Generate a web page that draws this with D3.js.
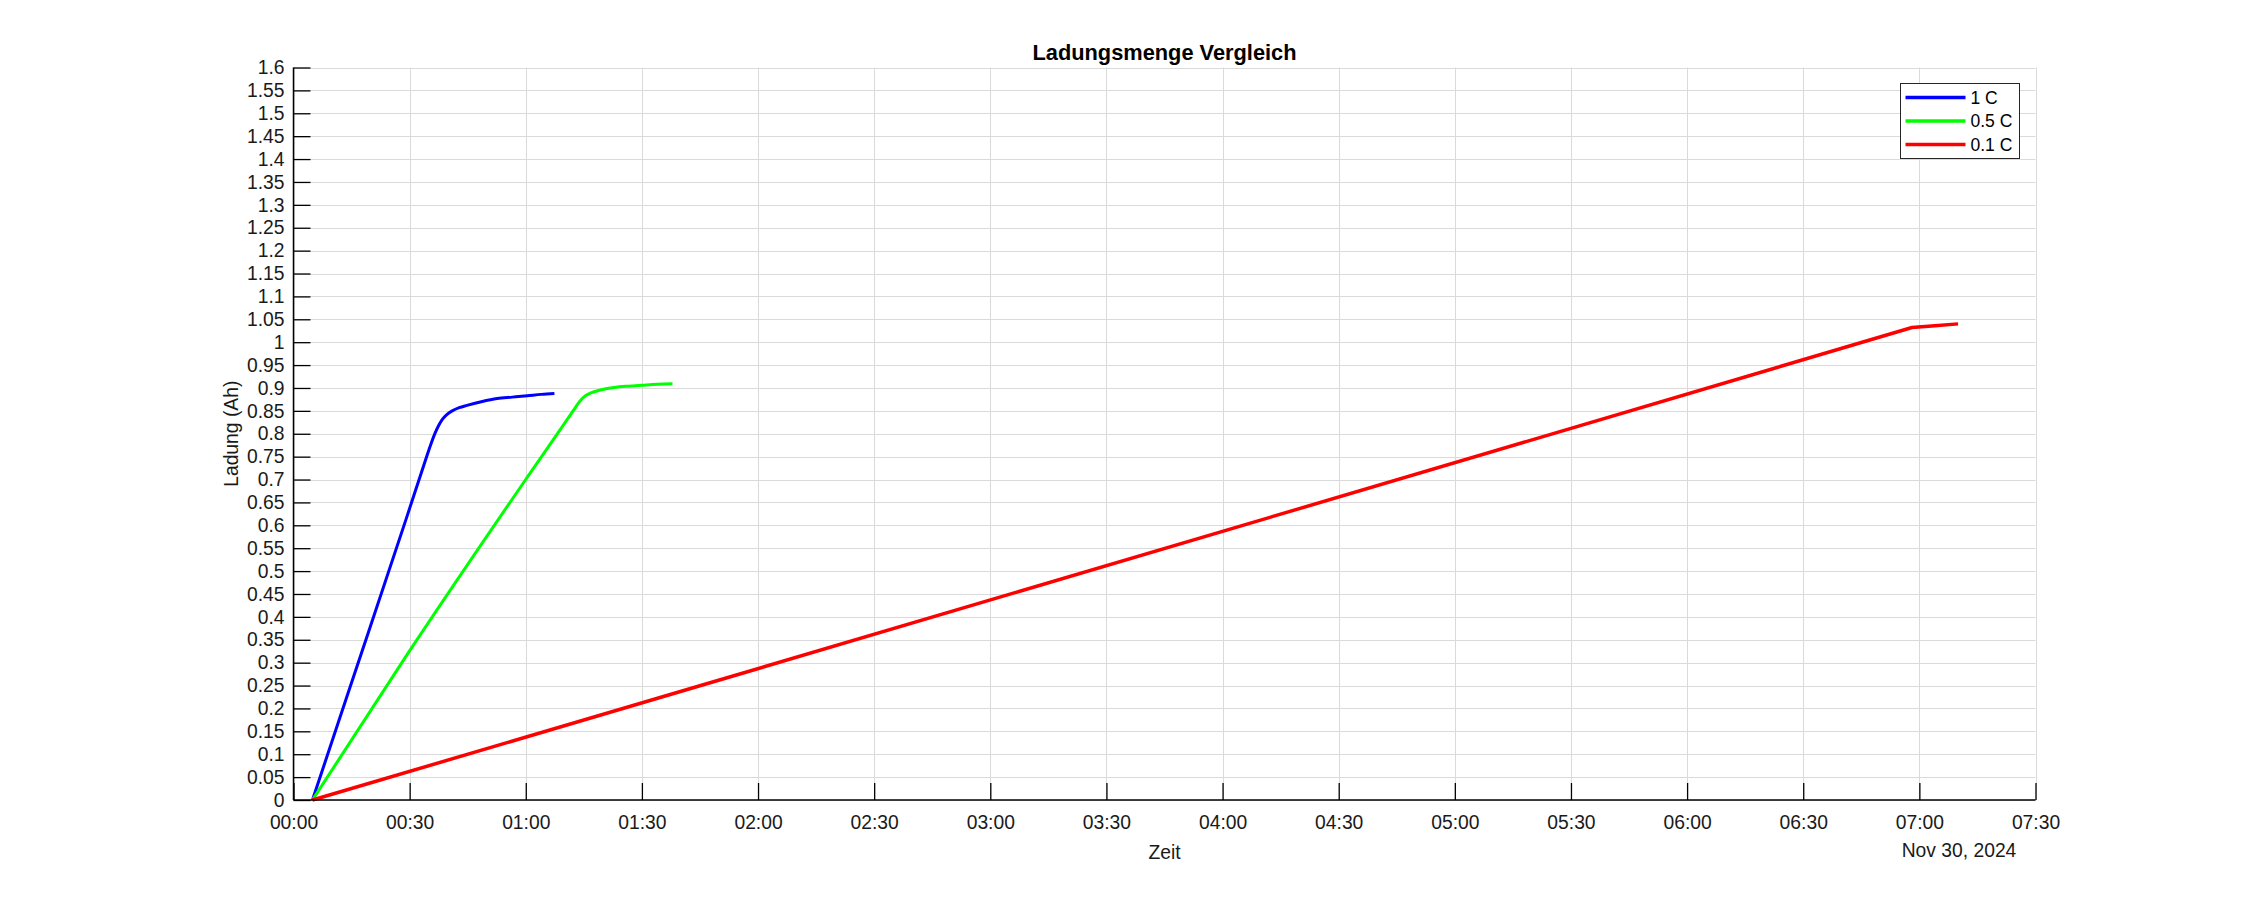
<!DOCTYPE html>
<html>
<head>
<meta charset="utf-8">
<script src="https://cdn.jsdelivr.net/npm/d3@7"></script>
<style>
  html, body { margin: 0; padding: 0; background: #fff; }
  svg { display: block; font-family: "Liberation Sans", Arial, sans-serif; }
</style>
</head>
<body>
<svg id="chart" width="2250" height="900"></svg>
<script>
// ---- data (time in minutes after 00:00 on Nov 30, 2024; charge in Ah) ----
const seriesNames = ["1 C", "0.5 C", "0.1 C"];
const seriesColors = ["#0000ff", "#00ff00", "#ff0000"];

const t1C   = [4.9, 13.8, 29.3, 34.0, 35.6, 36.6, 37.5, 38.5, 39.6, 41.0, 42.8, 44.8, 48.5, 52.6, 56.5, 60.4, 64.0, 67.4];
const q1C   = [0, 0.226, 0.619, 0.740, 0.780, 0.802, 0.818, 0.832, 0.842, 0.850, 0.857, 0.862, 0.870, 0.877, 0.880, 0.883, 0.886, 0.888];

const t05C  = [4.9, 29.3, 59.9, 72.4, 73.6, 74.6, 75.6, 76.7, 79.0, 82.8, 86.5, 90.1, 94.0, 97.9];
const q05C  = [0, 0.317, 0.699, 0.852, 0.867, 0.877, 0.884, 0.889, 0.895, 0.901, 0.904, 0.906, 0.908, 0.909];

const t01C  = [4.9, 105.2, 418.1, 424.0, 430.0];
const q01C  = [0, 0.250, 1.032, 1.036, 1.040];

const yTicks = d3.range(0, 1.6001, 0.05).map(v => +v.toFixed(2));
const xTickMinutes = d3.range(0, 451, 30);

const titleText = "Ladungsmenge Vergleich";
const xLabelText = "Zeit";
const yLabelText = "Ladung (Ah)";
const dateLabelText = "Nov 30, 2024";

// ---- layout ----
const svg = d3.select("#chart");
const L = 293.5, R = 2035.5, T = 67.5, B = 800;
const base = new Date(2024, 10, 30, 0, 0, 0);
const toDate = m => new Date(base.getTime() + m * 60000);

const x = d3.scaleTime().domain([toDate(0), toDate(450)]).range([L, R]);
const y = d3.scaleLinear().domain([0, 1.6]).range([B, T]);

// grid
const grid = svg.append("g");
grid.selectAll(".gy").data(yTicks).enter().append("line")
  .attr("x1", L).attr("x2", R)
  .attr("y1", d => Math.round(y(d)) + 0.5).attr("y2", d => Math.round(y(d)) + 0.5)
  .attr("stroke", "#dadada").attr("stroke-width", 1);
grid.selectAll(".gx").data(xTickMinutes).enter().append("line")
  .attr("x1", d => Math.round(x(toDate(d))) + 0.5).attr("x2", d => Math.round(x(toDate(d))) + 0.5)
  .attr("y1", T).attr("y2", B)
  .attr("stroke", "#dadada").attr("stroke-width", 1);

// series
const series = [
  { t: t1C, q: q1C, curve: d3.curveMonotoneX },
  { t: t05C, q: q05C, curve: d3.curveMonotoneX },
  { t: t01C, q: q01C, curve: d3.curveLinear }
];

series.forEach((s, i) => {
  const pts = s.t.map((t, k) => [t, s.q[k]]);
  const line = d3.line()
    .x(d => x(toDate(d[0])))
    .y(d => y(d[1]))
    .curve(s.curve);
  svg.append("path")
    .attr("d", line(pts))
    .attr("fill", "none")
    .attr("stroke", seriesColors[i])
    .attr("stroke-width", i === 2 ? 3.5 : 3)
    .attr("stroke-linejoin", "round");
});

// axes
const yAxis = d3.axisLeft(y).tickValues(yTicks)
  .tickSizeInner(-17).tickSizeOuter(0).tickPadding(9)
  .tickFormat(d => d3.format("")(+d.toFixed(2)));
const gy = svg.append("g").attr("transform", `translate(${L},0)`).call(yAxis);

const xAxis = d3.axisBottom(x).tickValues(xTickMinutes.map(toDate))
  .tickSizeInner(-17).tickSizeOuter(0).tickPadding(15)
  .tickFormat(d3.timeFormat("%H:%M"));
const gx = svg.append("g").attr("transform", `translate(0,${B})`).call(xAxis);

[gx, gy].forEach(g => {
  g.attr("font-size", null).attr("font-family", null);
  g.select(".domain").attr("stroke", "#000").attr("stroke-width", 1.5);
  g.selectAll(".tick line").attr("stroke", "#000").attr("stroke-width", 1.3);
  g.selectAll(".tick text").attr("fill", "#1a1a1a")
    .style("font-size", "19.3px").style("font-family", "'Liberation Sans', Arial, sans-serif");
});
gy.select(".domain").attr("d", `M0,${T}V${B}`);
gx.select(".domain").attr("d", `M${L},0H${R}`);

// title and labels
svg.append("text").attr("x", (L + R) / 2).attr("y", 59.5)
  .attr("text-anchor", "middle").style("font-size", "21.8px").style("font-weight", "bold")
  .attr("fill", "#000").text(titleText);

svg.append("text").attr("x", (L + R) / 2).attr("y", 859)
  .attr("text-anchor", "middle").style("font-size", "19.3px")
  .attr("fill", "#1a1a1a").text(xLabelText);

svg.append("text").attr("x", 1959).attr("y", 857)
  .attr("text-anchor", "middle").style("font-size", "19.3px")
  .attr("fill", "#1a1a1a").text(dateLabelText);

svg.append("text")
  .attr("transform", `translate(238,${(T + B) / 2}) rotate(-90)`)
  .attr("text-anchor", "middle").style("font-size", "19.3px")
  .attr("fill", "#1a1a1a").text(yLabelText);

// legend
const lg = svg.append("g");
lg.append("rect").attr("x", 1900.5).attr("y", 83.5).attr("width", 119).attr("height", 75)
  .attr("fill", "#fff").attr("stroke", "#262626").attr("stroke-width", 1);
seriesNames.forEach((name, i) => {
  const yy = 97.5 + i * 23.5;
  lg.append("line").attr("x1", 1905.5).attr("x2", 1965.5).attr("y1", yy).attr("y2", yy)
    .attr("stroke", seriesColors[i]).attr("stroke-width", 3.5);
  lg.append("text").attr("x", 1970.5).attr("y", yy).attr("dy", "0.35em")
    .style("font-size", "17.5px").attr("fill", "#000").text(name);
});
</script>
</body>
</html>
